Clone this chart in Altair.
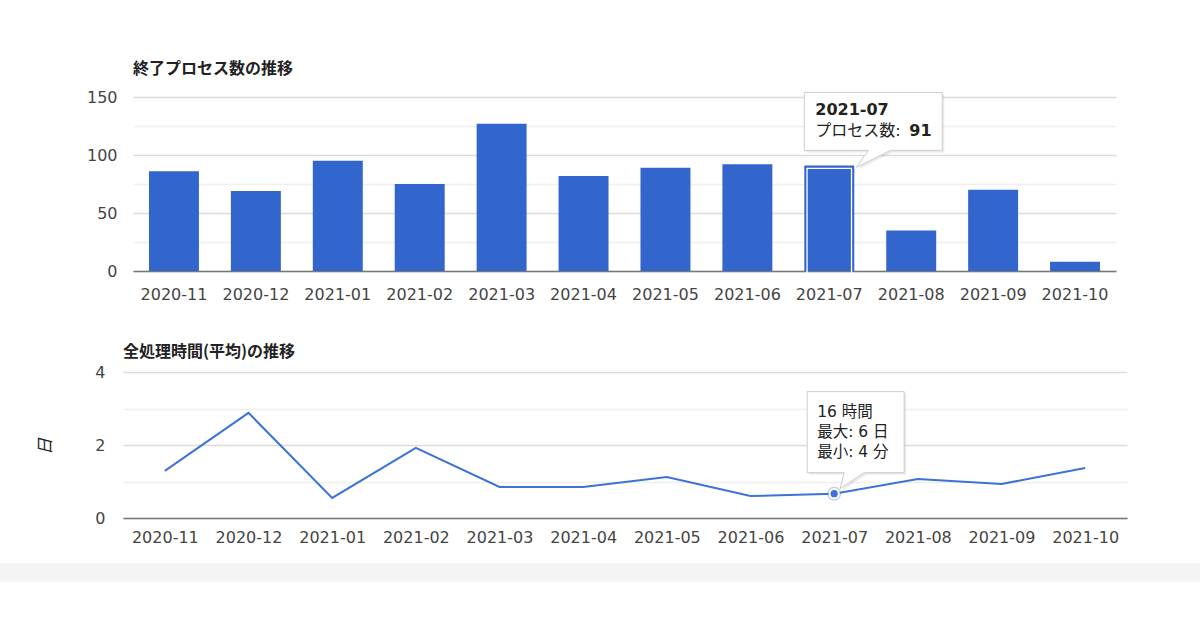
import altair as alt
import pandas as pd

# ---------------- data ----------------
months = ["2020-11", "2020-12", "2021-01", "2021-02", "2021-03", "2021-04",
          "2021-05", "2021-06", "2021-07", "2021-08", "2021-09", "2021-10"]
process_counts = [86, 69, 95, 75, 127, 82, 89, 92, 91, 35, 70, 8]
avg_days = [1.29, 2.88, 0.55, 1.92, 0.85, 0.85, 1.12, 0.60, 0.667, 1.07, 0.93, 1.37]

highlight_month = "2021-07"
count_tip_label = "プロセス数: "
time_tip_lines = ["16 時間", "最大: 6 日", "最小: 4 分"]

bar_title = "終了プロセス数の推移"
line_title = "全処理時間(平均)の推移"
line_y_title = "日"
count_ticks = [0, 25, 50, 75, 100, 125, 150]
day_ticks = [0, 1, 2, 3, 4]

# ---------------- style ----------------
FONT = "'DejaVu Sans', 'Noto Sans CJK JP', sans-serif"
CJK = "'Noto Sans CJK JP', 'DejaVu Sans', sans-serif"
BLUE = "#3366cc"
LINE_BLUE = "#3d72d6"
LABEL = "#444444"

df = pd.DataFrame({"month": months, "count": process_counts, "days": avg_days})
hl = df[df["month"] == highlight_month].copy()
hl["count_text"] = hl["count"].astype(str)

grid_color = {"condition": {"test": "datum.value % 50 === 0", "value": "#dcdcdc"},
              "value": "#efefef"}
grid_color2 = {"condition": {"test": "datum.value % 2 === 0", "value": "#dcdcdc"},
               "value": "#efefef"}

# ---------------- top chart (bars) ----------------
x_top = alt.X("month:N", sort=months,
              scale=alt.Scale(paddingInner=0.39, paddingOuter=0.195, range=[10, 993]),
              axis=alt.Axis(title=None, labelAngle=0, ticks=False, grid=False,
                            labelFont=FONT, labelFontSize=16, labelColor=LABEL,
                            labelPadding=15, domainColor="#777777", domainWidth=1.5))
y_top = alt.Y("count:Q", scale=alt.Scale(domain=[0, 150], nice=False),
              axis=alt.Axis(title=None, values=count_ticks,
                            labelExpr="datum.value % 50 === 0 ? datum.label : ''",
                            ticks=False, domain=False, gridColor=grid_color,
                            gridWidth=1.5, labelFont=FONT, labelFontSize=16,
                            labelColor=LABEL, labelPadding=6))

base_top = alt.Chart(df)

bars = base_top.mark_bar(color=BLUE).encode(x=x_top, y=y_top)

hl_bar = alt.Chart(hl).mark_bar(fillOpacity=0, stroke="white", strokeWidth=1.3,
                                width=alt.RelativeBandSize(0.89),
                                yOffset=3, y2Offset=-3).encode(x=x_top, y=y_top)

tip_path_top = "M-25,-73 L113,-73 L113,-15 L61,-15 L27,2 L39,-15 L-25,-15 Z"
tip_shadow_top = alt.Chart(hl).mark_point(shape=tip_path_top, size=4, filled=True,
                                          fill="#000000", opacity=0.08,
                                          xOffset=2, yOffset=2).encode(x=x_top, y=y_top)
tip_box_top = alt.Chart(hl).mark_point(shape=tip_path_top, size=4, filled=True,
                                       fill="white", stroke="#cccccc", strokeWidth=1,
                                       opacity=1).encode(x=x_top, y=y_top)
tip_t1 = alt.Chart(hl).mark_text(align="left", baseline="middle", dx=-14, dy=-55,
                                 font=FONT, fontSize=16, fontWeight="bold",
                                 color="#222222").encode(x=x_top, y=y_top, text="month:N")
tip_t2 = alt.Chart(hl).mark_text(align="left", baseline="middle", dx=-14, dy=-34,
                                 font=FONT, fontSize=16, color="#222222").encode(
    x=x_top, y=y_top, text=alt.value(count_tip_label))
tip_t3 = alt.Chart(hl).mark_text(align="left", baseline="middle", dx=80, dy=-34,
                                 font=FONT, fontSize=16, fontWeight="bold",
                                 color="#222222").encode(x=x_top, y=y_top, text="count_text:N")

top = alt.layer(bars, hl_bar, tip_shadow_top, tip_box_top, tip_t1, tip_t2, tip_t3).properties(
    width=1004, height=174,
    title=alt.TitleParams(bar_title, anchor="start", frame="group", font=CJK,
                          fontSize=16, fontWeight="bold", color="#222222",
                          baseline="bottom", offset=-4, dx=10))

# ---------------- bottom chart (line) ----------------
x_bot = alt.X("month:N", sort=months, scale=alt.Scale(type="point", padding=0.5),
              axis=alt.Axis(title=None, labelAngle=0, ticks=False, grid=False,
                            labelFont=FONT, labelFontSize=16, labelColor=LABEL,
                            labelPadding=11, domainColor="#777777", domainWidth=1.5))
y_bot = alt.Y("days:Q", scale=alt.Scale(domain=[0, 4], nice=False),
              axis=alt.Axis(title=line_y_title, values=day_ticks,
                            labelExpr="datum.value % 2 === 0 ? datum.label : ''",
                            ticks=False, domain=False, gridColor=grid_color2,
                            gridWidth=1.5, labelFont=FONT, labelFontSize=16,
                            labelColor=LABEL, labelPadding=18,
                            titleFont=CJK, titleFontSize=17, titleFontStyle="italic",
                            titleFontWeight="normal", titleColor="#222222",
                            titleAngle=270, titleAlign="center", titleBaseline="middle",
                            titleX=-78, titleY=74))

base_bot = alt.Chart(df)

gray_band = base_bot.mark_rect(color="#f4f4f4").encode(
    x=alt.value(-123), x2=alt.value(1077), y=alt.value(191), y2=alt.value(210))

line = base_bot.mark_line(color=LINE_BLUE, strokeWidth=2).encode(x=x_bot, y=y_bot)

halo = alt.Chart(hl).mark_point(filled=True, size=200, color=LINE_BLUE, opacity=0.3).encode(
    x=x_bot, y=y_bot)
dot = alt.Chart(hl).mark_point(filled=True, size=85, fill=LINE_BLUE, stroke="white",
                               strokeWidth=2, opacity=1).encode(x=x_bot, y=y_bot)

tip_path_bot = "M-27,-102 L70,-102 L70,-21 L30,-21 L6,-5 L10,-21 L-27,-21 Z"
tip_shadow_bot = alt.Chart(hl).mark_point(shape=tip_path_bot, size=4, filled=True,
                                          fill="#000000", opacity=0.08,
                                          xOffset=2, yOffset=2).encode(x=x_bot, y=y_bot)
tip_box_bot = alt.Chart(hl).mark_point(shape=tip_path_bot, size=4, filled=True,
                                       fill="white", stroke="#cccccc", strokeWidth=1,
                                       opacity=1).encode(x=x_bot, y=y_bot)
tip_lines = []
for i, txt in enumerate(time_tip_lines):
    tip_lines.append(
        alt.Chart(hl).mark_text(align="left", baseline="middle", dx=-17, dy=-82 + 20 * i,
                                font=FONT, fontSize=15.5, color="#222222").encode(
            x=x_bot, y=y_bot, text=alt.value(txt)))

bottom = alt.layer(gray_band, line, halo, dot, tip_shadow_bot, tip_box_bot, *tip_lines).properties(
    width=1004, height=146,
    title=alt.TitleParams(line_title, anchor="start", frame="group", font=CJK,
                          fontSize=16, fontWeight="bold", color="#222222",
                          baseline="bottom", offset=-12))

chart = alt.vconcat(top, bottom, spacing=42).properties(
    padding={"left": 0, "top": 61, "right": 0, "bottom": 0},
    background="white",
).configure_view(stroke=None)

chart.save("out.html", embed_options={"renderer": "svg", "actions": False})
